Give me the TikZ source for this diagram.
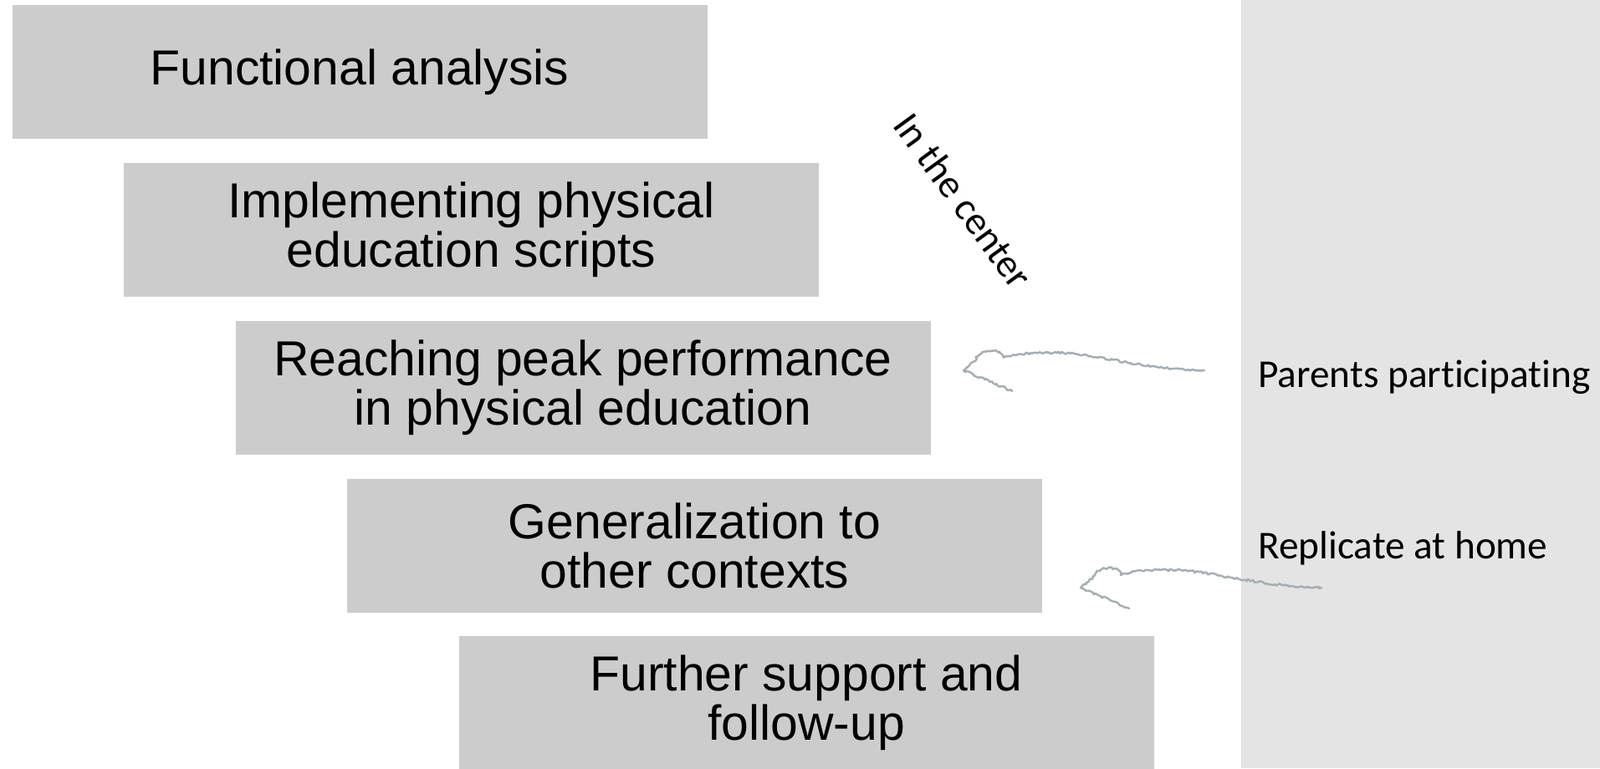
\documentclass[tikz,border=0pt]{standalone}
\usepackage{fontspec}
\usetikzlibrary{decorations.pathmorphing}
\newfontfamily\arialfont{Liberation Sans}
\newfontfamily\calibrifont[Ligatures=NoCommon]{Carlito}
\definecolor{boxgray}{HTML}{CCCCCC}
\definecolor{panelgray}{HTML}{E4E4E4}
\definecolor{pencil}{RGB}{165,175,178}

\tikzset{
  stage/.style={rectangle, fill=boxgray, inner sep=0pt, align=center,
    minimum width=16.62cm, minimum height=3.2cm,
    font=\arialfont\fontsize{33.5}{33.5}\selectfont},
  note/.style={inner sep=0pt, font=\calibrifont\fontsize{26.9}{30}\selectfont},
  sketch/.style={draw=pencil, line width=1.4pt, line cap=round, line join=round,
    decorate, decoration={random steps, segment length=1.2pt, amplitude=0.8pt}}
}

\begin{document}
\begin{tikzpicture}
    \useasboundingbox (0,0) rectangle (38.26,18.38);

    % Panel
    \fill[panelgray] (29.68,0) rectangle (38.26,18.38);

    % Stages
    \node[stage] (a) at (8.60,16.66) {Functional analysis};
    \node[stage] (b) at (11.27,12.88) {Implementing physical\\education scripts};
    \node[stage] (c) at (13.94,9.10) {Reaching peak performance\\in physical education};
    \node[stage] (d) at (16.61,5.32) {Generalization to\\other contexts};
    \node[stage] (e) at (19.28,1.56) {Further support and\\follow-up};

    % Labels
    \node[note, rotate=-54] (ctr) at (23.04,13.58) {In the center};
    \node[note, anchor=west] (p) at (30.08,9.36) {Parents participating};
    \node[note, anchor=west] (r) at (30.08,5.26) {Replicate at home};

    % Arrows
    \coordinate (tip1) at (23.04,9.52);
    \coordinate (tip2) at (25.84,4.32);

    \begin{scope}[shift={(tip1)}]
      \draw[sketch] (5.76,0) .. controls (4.6,0) and (3.2,0.35) .. (2.56,0.4)
        .. controls (2.0,0.45) and (1.3,0.42) .. (0.96,0.3)
        .. controls (0.95,0.55) and (0.35,0.5) .. (0.3,0.25) -- (0,0) -- (1.16,-0.5);
    \end{scope}

    \begin{scope}[shift={(tip2)}]
      \draw[sketch] (5.76,0) .. controls (4.6,0) and (3.2,0.35) .. (2.56,0.4)
        .. controls (2.0,0.45) and (1.3,0.42) .. (0.96,0.3)
        .. controls (0.95,0.55) and (0.35,0.5) .. (0.3,0.25) -- (0,0) -- (1.16,-0.5);
    \end{scope}

\end{tikzpicture}
\end{document}
